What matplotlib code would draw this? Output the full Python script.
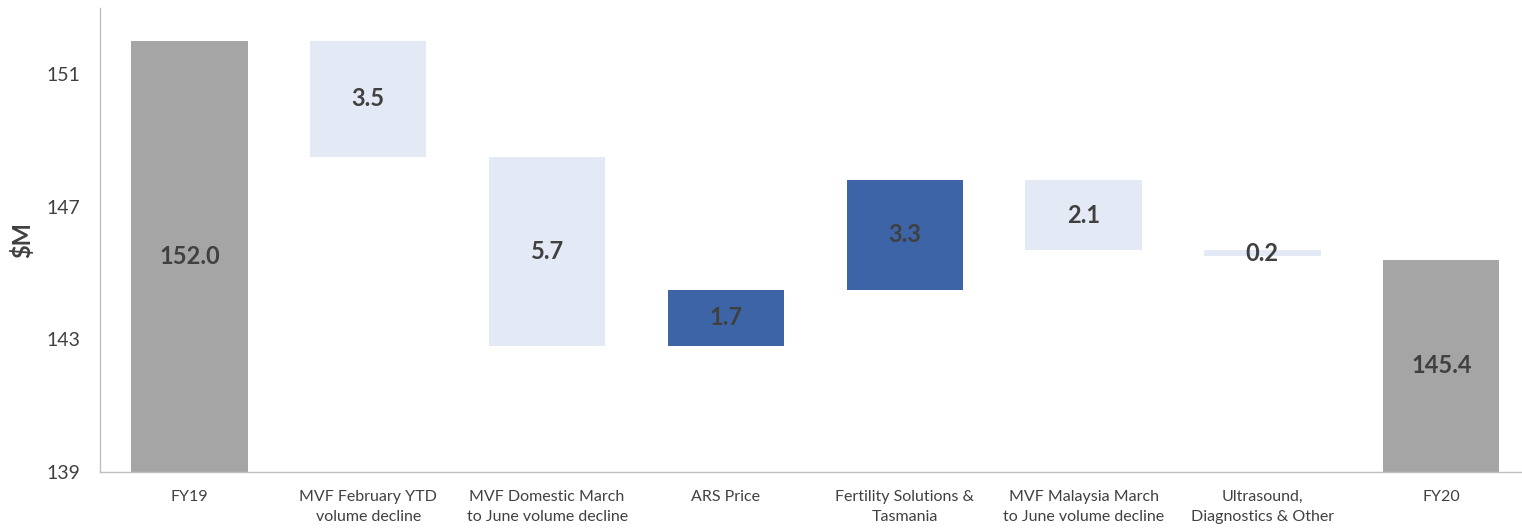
import matplotlib.pyplot as plt
import numpy as np

plt.rcParams['font.family'] = ['Lato', 'DejaVu Sans']

categories = ['FY19', 'MVF February YTD\nvolume decline', 'MVF Domestic March\nto June volume decline',
              'ARS Price', 'Fertility Solutions &\nTasmania', 'MVF Malaysia March\nto June volume decline',
              'Ultrasound,\nDiagnostics & Other', 'FY20']
start_total = 152.0
deltas = [-3.5, -5.7, 1.7, 3.3, -2.1, -0.2]
end_total = 145.4
y_min, y_max = 139, 153
y_ticks = [139, 143, 147, 151]

GRAY = '#A5A5A5'
LIGHT = '#E3E9F5'
DARK = '#3D64A7'
TEXT = '#404040'

# waterfall bars
bottoms, heights, colors, labels = [y_min], [start_total - y_min], [GRAY], [f'{start_total:.1f}']
level = start_total
for d in deltas:
    new = level + d
    bottoms.append(min(level, new))
    heights.append(abs(d))
    colors.append(DARK if d > 0 else LIGHT)
    labels.append(f'{abs(d):.1f}')
    level = new
bottoms.append(y_min)
heights.append(end_total - y_min)
colors.append(GRAY)
labels.append(f'{end_total:.1f}')

fig = plt.figure(figsize=(15.22, 5.30), dpi=100)
ax = fig.add_axes([0.0657, 0.1094, 0.94, 0.876])
x = np.arange(len(categories))
ax.bar(x, heights, bottom=bottoms, width=0.65, color=colors, zorder=1)

for xi, b, h, lab in zip(x, bottoms, heights, labels):
    ax.text(xi, b + h / 2, lab, ha='center', va='center', fontsize=17,
            fontweight='bold', color=TEXT, zorder=3)

ax.set_xlim(-0.5, 7.5)
ax.set_ylim(y_min, y_max)
ax.set_yticks(y_ticks)
ax.set_xticks(x)
ax.set_xticklabels(categories, fontsize=11.5, color=TEXT, linespacing=1.55)
ax.tick_params(axis='y', labelsize=14, colors=TEXT, length=0, pad=14)
ax.tick_params(axis='x', length=0, pad=13)
ax.set_ylabel('$M', fontsize=17, fontweight='bold', color=TEXT, labelpad=9)

for s in ['top', 'right']:
    ax.spines[s].set_visible(False)
for s in ['left', 'bottom']:
    ax.spines[s].set_color('#BFBFBF')
    ax.spines[s].set_linewidth(1)
ax.spines['bottom'].set_zorder(2)

fig.savefig('out.png', dpi=100)
plt.close()
